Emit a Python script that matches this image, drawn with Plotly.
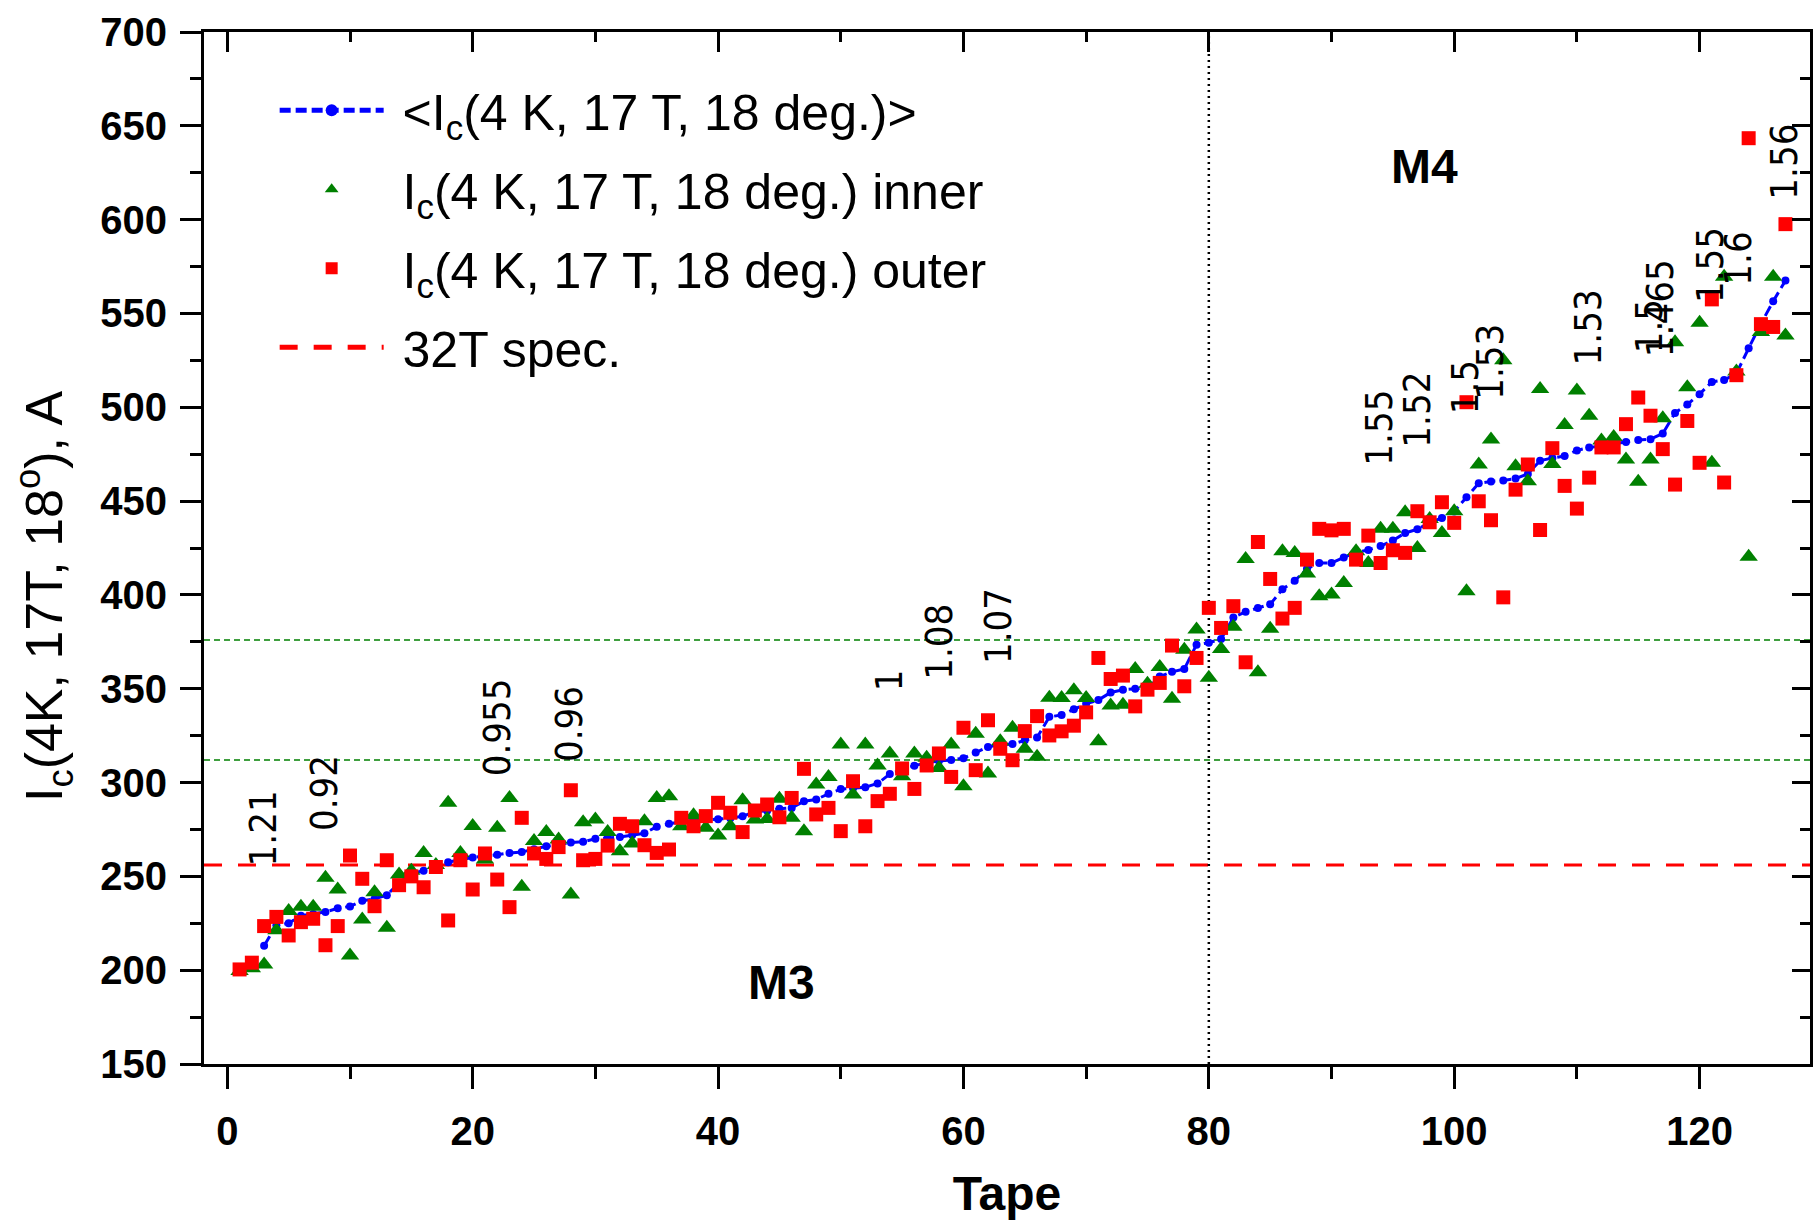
import plotly.graph_objects as go

# ---------------- data ----------------
tape = list(range(1, 128))

ic_inner = [199.5, 201, 203, 221.3, 231.5, 233.8, 233.8, 249.2, 243, 207.8,
            227, 241.6, 222.6, 251, 253, 262.5, 256, 289.2, 262.5, 276.8,
            259, 275.9, 291.8, 244.4, 268.8, 273.6, 269.6, 240.3, 278.9, 280.3,
            273.6, 263.4, 267.5, 279.4, 291.8, 292.7, 276.7, 282.6, 275.9, 271.8,
            276.7, 290.6, 280.3, 280.6, 291.3, 281.2, 274.1, 299, 302.9, 320.3,
            293.6, 320.3, 309.1, 315.5, 303.4, 315.5, 313.2, 307.8, 320.3, 298,
            326, 304.8, 322, 329.2, 318, 313.7, 345.2, 345.1, 349.2, 345.1,
            322, 341, 341.5, 360.5, 352.7, 361.6, 344.6, 370.8, 381.5, 355.8,
            371.2, 383, 419.2, 358.8, 381.9, 423.3, 422.4, 411.4, 399.3, 400.2,
            406.4, 423.3, 417, 435.2, 435.2, 444, 425, 440.5, 433, 444.6,
            401.9, 469.5, 482.8, 525.1, 468.6, 460.6, 509.8, 469.8, 490.5, 508.9,
            495.5, 482.3, 484.1, 472.2, 460.3, 472.2, 494.2, 534.6, 510.7, 545,
            470.4, 569.5, 519, 420.3, 540.1, 569.5, 538.3]

ic_outer = [200.4, 204, 223.5, 228.4, 218.5, 225.6, 227.4, 213.3, 223.5, 261.1,
            248.7, 234.1, 258.6, 245.3, 250, 244.2, 255, 226.5, 258.6, 243,
            262.2, 248.3, 233.6, 281.2, 262.2, 259.3, 265.6, 295.9, 258.6, 259.3,
            266.4, 278, 276.7, 266.6, 262.5, 264.3, 281.2, 276.7, 282.1, 289.2,
            283.9, 273.6, 285.1, 288.3, 281.5, 291.8, 307.3, 283, 286.5, 274.1,
            300.7, 276.7, 290.1, 294, 307.5, 296.6, 309.1, 315.5, 303, 329.2,
            306.6, 333.2, 318, 311.9, 327.4, 335.4, 325.1, 327.3, 330.3, 337.4,
            366.4, 355.2, 357, 340.6, 349.5, 353.1, 373, 351.3, 366.4, 393.1,
            382.4, 394, 364.1, 428.2, 408.5, 387.4, 393.1, 418.8, 435.2, 434.4,
            435.2, 418.8, 431.6, 417, 423.8, 422.4, 444.6, 438.7, 449.4, 438.4,
            502.7, 449.9, 439.8, 398.7, 456.1, 469.5, 434.6, 478.2, 458.1, 446,
            462.5, 478.6, 478.6, 491, 505.2, 495.5, 477.7, 458.8, 492.7, 470.4,
            557.5, 459.9, 517.1, 643.4, 544.3, 542.8, 597.6]

ic_mean = [None, None, 213, 224, 225, 229, 230, 231, 233, 234,
           237, 238, 240, 246.5, 251.5, 253, 255.5, 257.5, 259, 260,
           261, 261.5, 262.5, 263, 264.5, 266, 267, 268, 268.5, 270,
           270.5, 271, 272, 273, 276.5, 278, 279, 280, 280, 280.5,
           281, 282, 284.5, 285, 286, 286.5, 290, 291, 294, 296.5,
           297, 297.5, 299.5, 304.5, 307, 309, 310.5, 311.5, 312, 313,
           316, 319, 320, 320.5, 322.5, 324, 335, 336, 339, 342,
           344, 348, 349.5, 350, 350.5, 356.5, 359, 360.5, 373.5, 374.5,
           376.5, 388, 391, 393, 395, 403, 407.5, 414, 417, 417,
           420, 422.5, 424, 426, 429, 433, 435, 438.5, 441, 444.5,
           452, 459.5, 460.5, 461, 462, 464.5, 471.5, 473, 474, 477,
           478.5, 479.5, 480.5, 481.5, 482.5, 483, 486, 497, 501.5, 507,
           513.5, 514.5, 518, 531.5, 544.5, 556.5, 567.5]

spec_32T = 256
green_levels = [312, 376]
boundary_tape = 80

label_text = ["1.21", "0.92", "0.955", "0.96", "1", "1.08", "1.07",
              "1.55", "1.52", "1.5", "1.53", "1.53", "1.5", "1.465",
              "1.55", "1.6", "1.56"]
label_tape = [2.9, 7.9, 22.0, 27.8, 53.9, 58.0, 62.8,
              93.8, 96.9, 100.9, 102.9, 110.9, 115.9, 116.8,
              120.8, 123.1, 126.9]
label_ic = [275.5, 294.5, 329.6, 331.4, 354.3, 375, 383.3,
            489.2, 498.8, 510.8, 524.1, 542.5, 543.3, 553,
            576, 579, 631]

region_text = ["M3", "M4"]
region_tape = [45.2, 97.6]
region_ic = [193.7, 628.3]

# ---------------- figure ----------------
FONT = "Liberation Sans, Arial, sans-serif"
NARROW = "Liberation Sans Narrow, Arial Narrow, DejaVu Sans Condensed, Liberation Sans, sans-serif"
X_RANGE = [-1.9, 129]
Y_RANGE = [150, 700]
PAD = "&nbsp;"

fig = go.Figure()

fig.add_trace(go.Scatter(
    x=tape, y=ic_mean, mode="lines+markers",
    name=PAD + "&lt;I<sub>c</sub>(4 K, 17 T, 18 deg.)&gt;",
    legendgroup="mean",
    line=dict(color="#0000ff", width=3, dash="11px,5px"),
    marker=dict(color="#0000ff", size=8, symbol="circle"),
    connectgaps=False,
))
fig.add_trace(go.Scatter(
    x=tape, y=ic_inner, mode="markers",
    name=PAD + "I<sub>c</sub>(4 K, 17 T, 18 deg.) inner",
    legendgroup="inner",
    marker=dict(color="#008000", size=16, symbol="triangle-up",
                line=dict(width=0)),
))
fig.add_trace(go.Scatter(
    x=tape, y=ic_outer, mode="markers",
    name=PAD + "I<sub>c</sub>(4 K, 17 T, 18 deg.) outer",
    legendgroup="outer",
    marker=dict(color="#ff0000", size=14, symbol="square",
                line=dict(width=0)),
))

# dummy traces to activate the mirrored (top / right) axes with inward ticks
fig.add_trace(go.Scatter(x=[None], y=[None], xaxis="x2", yaxis="y",
                         showlegend=False, hoverinfo="skip"))
fig.add_trace(go.Scatter(x=[None], y=[None], xaxis="x", yaxis="y2",
                         showlegend=False, hoverinfo="skip"))

# reference lines
fig.add_hline(y=spec_32T, line=dict(color="#ff0000", width=3, dash="18px,16px"),
              layer="below", showlegend=True, name=PAD + "32T spec.",
              legendgroup="spec")
for g in green_levels:
    fig.add_hline(y=g, line=dict(color="#008000", width=1.5, dash="6px,4px"),
                  layer="below")
fig.add_vline(x=boundary_tape, line=dict(color="black", width=2.5, dash="2px,4px"),
              layer="below")

for t, xv, yv in zip(label_text, label_tape, label_ic):
    fig.add_annotation(x=xv, y=yv, text=t, textangle=-90, showarrow=False,
                       font=dict(family=NARROW, size=38, color="black"))

for t, xv, yv in zip(region_text, region_tape, region_ic):
    fig.add_annotation(x=xv, y=yv, text="<b>%s</b>" % t, showarrow=False,
                       font=dict(family=FONT, size=48, color="black"))

# y-axis title (placed as rotated text to match the original's offset)
fig.add_annotation(xref="paper", yref="paper", x=-0.0996, y=0.4535,
                   text="I<sub>c</sub>(4K, 17T, 18<sup>o</sup>), A",
                   textangle=-90, showarrow=False, xanchor="center",
                   yanchor="middle",
                   font=dict(family=FONT, size=52, color="black"))

axis_common = dict(showgrid=False, zeroline=False, showline=True,
                   linecolor="black", linewidth=3, tickcolor="black",
                   tickwidth=3)

fig.update_layout(
    width=1814, height=1220,
    margin=dict(l=204, r=4, t=32, b=156, autoexpand=False),
    paper_bgcolor="white", plot_bgcolor="white",
    font=dict(family=FONT, color="black"),
    xaxis=dict(range=X_RANGE, tick0=0, dtick=20, ticks="outside", ticklen=22,
               minor=dict(dtick=10, ticks="outside", ticklen=12, tickwidth=3,
                          tickcolor="black"),
               tickfont=dict(family=FONT, size=40, weight="bold"),
               ticklabelstandoff=8,
               title=dict(text="<b>Tape</b>", font=dict(family=FONT, size=48),
                          standoff=40),
               **axis_common),
    yaxis=dict(range=Y_RANGE, tick0=150, dtick=50, ticks="outside", ticklen=21,
               minor=dict(dtick=25, ticks="outside", ticklen=11, tickwidth=3,
                          tickcolor="black"),
               tickfont=dict(family=FONT, size=40, weight="bold"),
               ticklabelstandoff=5,
               **axis_common),
    xaxis2=dict(range=X_RANGE, overlaying="x", side="top", anchor="y",
                tick0=0, dtick=20, ticks="inside", ticklen=20,
                minor=dict(dtick=10, ticks="inside", ticklen=10, tickwidth=3,
                           tickcolor="black"),
                showticklabels=False, **axis_common),
    yaxis2=dict(range=Y_RANGE, overlaying="y", side="right", anchor="x",
                tick0=150, dtick=50, ticks="inside", ticklen=18,
                minor=dict(dtick=25, ticks="inside", ticklen=10, tickwidth=3,
                           tickcolor="black"),
                showticklabels=False, **axis_common),
    legend=dict(x=0.044, y=0.962, xanchor="left", yanchor="top",
                bgcolor="rgba(0,0,0,0)", borderwidth=0,
                font=dict(family=FONT, size=50, color="black"),
                itemwidth=104, tracegroupgap=11, itemsizing="constant"),
    showlegend=True,
)

fig.write_html("out.html")
